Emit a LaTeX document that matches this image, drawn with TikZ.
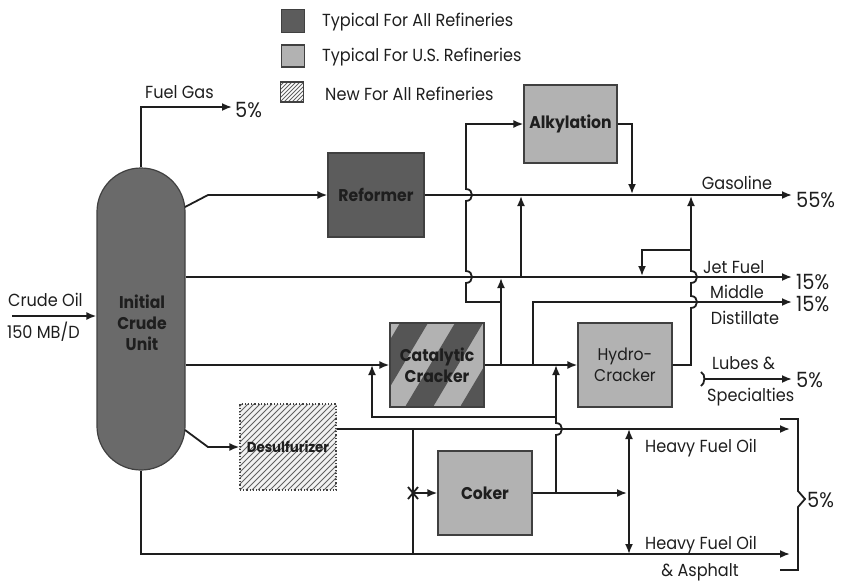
\documentclass[tikz,border=0pt]{standalone}
\usepackage{fontspec}
\setmainfont{Poppins}[FakeStretch=0.92]
\usetikzlibrary{arrows.meta,calc}
\definecolor{darkfill}{HTML}{5C5C5C}
\definecolor{cdufill}{HTML}{6A6A6A}
\definecolor{lightfill}{HTML}{B2B2B2}
\definecolor{stripe}{HTML}{555555}
\definecolor{ink}{HTML}{1E1E1E}
\newcommand\lblfont{\fontsize{17.5}{19}\selectfont}
\newcommand\pctfont{\fontsize{21}{22}\selectfont}
\newcommand\boxfont{\fontsize{17}{21}\selectfont\bfseries}
\tikzset{
  flow/.style={line width=1.8pt, draw=ink},
  arr/.style={-{Latex[length=10pt,width=8pt]}},
  dbl/.style={{Latex[length=10pt,width=8pt]}-{Latex[length=10pt,width=8pt]}},
  box/.style={draw=ink!85, line width=1.2pt, inner sep=0pt, minimum width=94pt, minimum height=84pt, font=\boxfont, align=center, text=ink},
  lbl/.style={font=\lblfont, text=ink, inner sep=0pt},
  pct/.style={font=\pctfont, text=ink, inner sep=0pt, anchor=west},
  jump/.style args={#1/#2}{insert path={-- (#1,#2+6) .. controls (#1+8,#2+6) and (#1+8,#2-6) .. (#1,#2-6)}},
}
\begin{document}
\begin{tikzpicture}[x=1pt,y=-1pt]
\useasboundingbox (0,0) rectangle (844,582);

% legend
\node[draw=ink!85, line width=1.2pt, fill=darkfill, minimum width=23pt, minimum height=23pt, inner sep=0pt] (lg1) at (293,21) {};
\node[draw=ink!85, line width=1.2pt, fill=lightfill, minimum width=23pt, minimum height=22pt, inner sep=0pt] (lg2) at (293,56) {};
\node[minimum width=23pt, minimum height=20pt, inner sep=0pt] (lg3) at (292,92) {};
\begin{scope}
\clip (lg3.south west) rectangle (lg3.north east);
\foreach \s in {-24,-20,...,24} \draw[line width=0.8pt, ink!70] (280+\s,102) -- (280+\s+20,82);
\end{scope}
\node[draw=ink!85, line width=1.2pt, minimum width=23pt, minimum height=20pt, inner sep=0pt] (lg3b) at (292,92) {};
\node[lbl, anchor=west] (lt1) at (322,22) {Typical For All Refineries};
\node[lbl, anchor=west] (lt2) at (322,57) {Typical For U.S. Refineries};
\node[lbl, anchor=west] (lt3) at (325,94) {New For All Refineries};

% crude unit
\node[draw=ink!85, line width=1.2pt, fill=cdufill, rounded corners=43.9pt, minimum width=88pt, minimum height=302pt, inner sep=0pt] (cdu) at (141,319) {};
\node[font=\boxfont, align=center, text=ink] (cdut) at (142,323) {Initial\\Crude\\Unit};

% process boxes
\node[box, fill=darkfill, minimum width=96pt] (ref) at (376,195) {Reformer};
\node[box, fill=lightfill, minimum width=93pt, minimum height=78pt] (alk) at (570.5,124) {Alkylation};
\node[box, fill=lightfill] (cat) at (437,365) {};
\begin{scope}
\clip (cat.south west) rectangle (cat.north east);
\foreach \s in {-150,-95,...,120} \fill[stripe] (390+\s,407) -- (390+\s+28,407) -- (390+\s+28+50,323) -- (390+\s+50,323) -- cycle;
\end{scope}
\node[box] (catb) at (437,365) {Catalytic\\Cracker};
\node[box, fill=lightfill] (hyd) at (625,365) {\mdseries Hydro-\\\mdseries Cracker};
\node[box, fill=black!5, draw=none, minimum width=96pt, minimum height=86pt] (des) at (288,447) {};
\begin{scope}
\clip (des.south west) rectangle (des.north east);
\foreach \s in {-96,-90,...,102} \draw[line width=0.9pt, ink!70] (240+\s,490) -- (240+\s+86,404);
\end{scope}
\node[box, dotted, minimum width=96pt, minimum height=86pt, font=\fontsize{14.5}{17}\selectfont\bfseries] (desb) at (288,447) {Desulfurizer};
\node[box, fill=lightfill] (cok) at (485,493) {Coker};

% coordinates
\coordinate (crin) at (12,316);
\coordinate (fg) at (232,107);
\coordinate (gas) at (792,195);
\coordinate (jet) at (792,277);
\coordinate (md) at (792,302);
\coordinate (lub0) at (704,379);
\coordinate (lub) at (792,379);
\coordinate (hfo1) at (790,429);
\coordinate (hfo2) at (790,554);

% crude in and fuel gas
\draw[flow,arr] (crin) -- (cdu.west |- crin);
\draw[flow,arr] (cdu.north) |- (fg);

% reformer
\draw[flow,arr] (185,207) -- (208,195) -- (ref.west);
\draw[flow,arr] (ref.east) -- (gas);

% jet fuel
\draw[flow,arr] (cdu.east |- jet) -- (jet);

% catalytic feed
\draw[flow,arr] (cdu.east |- cat.west) -- (cat.west);
% desulfurizer feed
\draw[flow,arr] (185,430) -- (208,447) -- (desb.west);

% bottom line
\draw[flow,arr] (cdu.south) |- (hfo2);
% heavy fuel oil
\draw[flow,arr] (desb.east |- hfo1) -- (hfo1);
\draw[flow] (413,429) -- (413,554);
% valve mark and coker feed
\draw[flow] (408,487) -- (418,499) (408,499) -- (418,487);
\draw[flow,arr] (413,493) -- (cok.west);
\draw[flow,arr] (cok.east) -- (627,493);
\draw[flow,dbl] (629,429) -- (629,554);

% recycle from coker
\draw[flow,arr] (556,493) [jump=556/429] -- (556,365);
\draw[flow,arr] (556,417) -- (372,417) -- (372,365);

% cat cracker out
\draw[flow,arr] (catb.east) -- (hyd.west);
\draw[flow,arr] (501,365) -- (501,278);
\draw[flow,arr] (501,302) -- (466,302) [jump=466/277] [jump=466/195] -- (466,124) -- (alk.west);
\draw[flow,arr] (alk.east) -- (632,124) -- (632,194);
\draw[flow,arr] (521,277) -- (521,196);
\draw[flow,arr] (533,365) -- (533,302) -- (md);

% hydrocracker out
\draw[flow,arr] (hyd.east) -- (691,365) [jump=691/302] [jump=691/277] -- (691,196);
\draw[flow,arr] (691,250) -- (642,250) -- (642,276);

% lubes
\draw[flow,arr] (lub0) -- (lub);
\draw[flow] (701,372) .. controls (706,374) and (705,384) .. (701,386);

% brace
\draw[flow] (780,419) -- (798,419) -- (798,491) -- (805,499) -- (798,507) -- (798,570) -- (780,570);

% labels
\node[lbl, anchor=west] (lfg) at (145,92) {Fuel Gas};
\node[pct] (p1) at (235,110) {5\%};
\node[lbl] (lgas) at (737,183) {Gasoline};
\node[pct] (p2) at (796,200) {55\%};
\node[lbl, anchor=west] (ljet) at (703,267) {Jet Fuel};
\node[pct] (p3) at (796,282) {15\%};
\node[lbl] (lmd1) at (737,292) {Middle};
\node[pct] (p4) at (796,304) {15\%};
\node[lbl] (lmd2) at (745,318) {Distillate};
\node[lbl, anchor=west] (llub1) at (712,363) {Lubes \&};
\node[pct] (p5) at (796,380) {5\%};
\node[lbl, anchor=west] (llub2) at (707,397) {Specialties};
\node[lbl, anchor=west] (lh1) at (645,448) {Heavy Fuel Oil};
\node[lbl, anchor=west] (lh2) at (645,545) {Heavy Fuel Oil};
\node[lbl] (lh3) at (700,572) {\& Asphalt};
\node[pct] (p6) at (807,500) {5\%};
\node[lbl, anchor=west] (lco) at (8,300) {Crude Oil};
\node[lbl, anchor=west] (lmb) at (7,332) {150 MB/D};
\end{tikzpicture}
\end{document}
